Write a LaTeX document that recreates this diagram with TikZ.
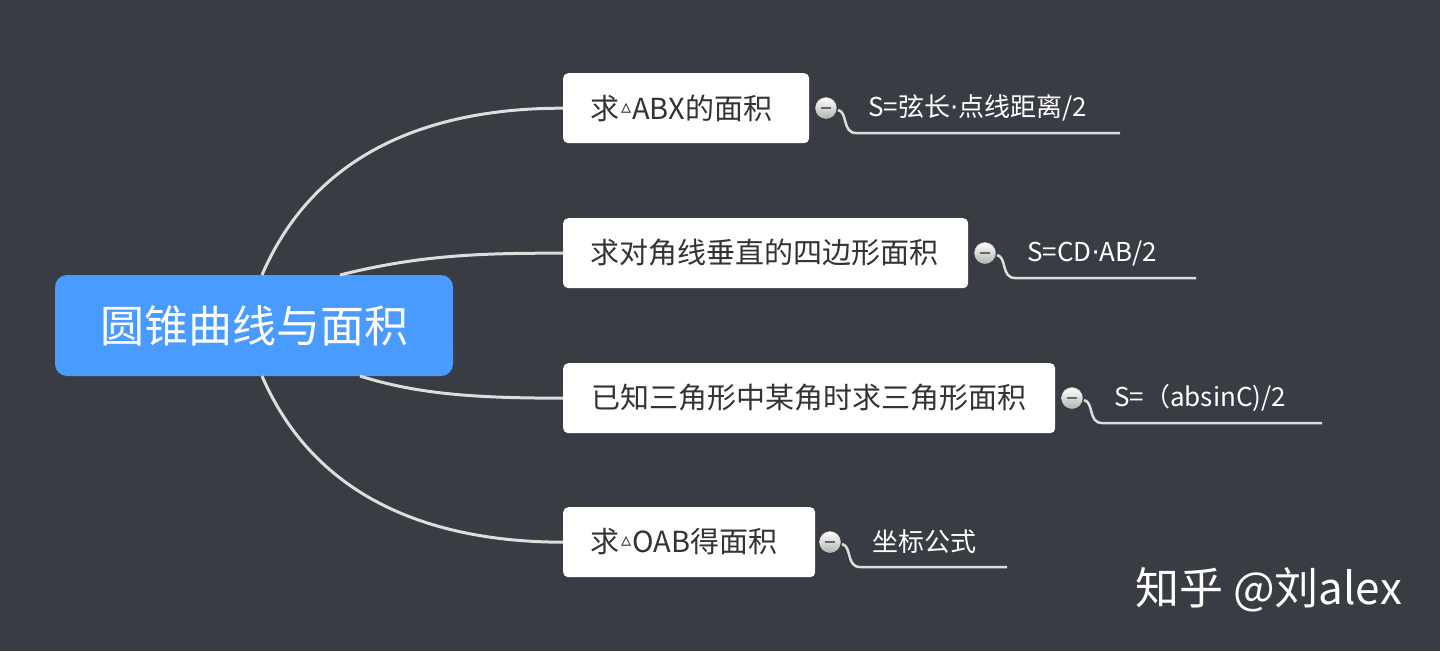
\documentclass[tikz,border=0pt]{standalone}
\usepackage{fontspec}
\setmainfont{Noto Sans CJK SC}
\newfontfamily\djfont{DejaVu Sans}
\definecolor{bg}{HTML}{393C43}
\definecolor{rootc}{HTML}{4A9BFF}
\definecolor{linec}{HTML}{DDDDDD}
\definecolor{txt}{HTML}{333333}
\newcommand{\tri}{\hspace{2pt}\raisebox{6pt}{\djfont\fontsize{20}{20}\selectfont ▵}\hspace{1pt}}
\newcommand{\mdot}{{\djfont ·}}
\begin{document}
\begin{tikzpicture}[x=1pt,y=-1pt,
  child/.style={fill=white,rounded corners=5pt,inner sep=0pt,anchor=north west},
  ctext/.style={text=txt,font=\fontsize{29}{34}\selectfont,anchor=west,inner sep=0pt},
  conn/.style={linec,line width=3pt},
  leaf/.style={text=white,font=\fontsize{26}{30}\selectfont,anchor=west,inner sep=0pt},
  icon/.style={circle,minimum size=21pt,inner sep=0pt,shading=axis,top color=white,bottom color=gray!60,draw=gray!40}]
\fill[bg] (0,0) rectangle (1440,651);
\useasboundingbox (0,0) rectangle (1440,651);
\node[fill=rootc,rounded corners=12pt,minimum width=398pt,minimum height=101pt,text=white,font=\fontsize{44}{52}\selectfont,inner sep=0pt] (root) at (254,325.5) {圆锥曲线与面积};
\node[child,minimum width=246pt,minimum height=70pt] (c1) at (563,73) {};
\node[ctext] (t1) at (590,108) {求\tri ABX的面积};
\node[child,minimum width=405pt,minimum height=70pt] (c2) at (563,218) {};
\node[ctext] (t2) at (590,253) {求对角线垂直的四边形面积};
\node[child,minimum width=492pt,minimum height=70pt] (c3) at (563,363) {};
\node[ctext] (t3) at (591,398) {已知三角形中某角时求三角形面积};
\node[child,minimum width=252pt,minimum height=70pt] (c4) at (563,507) {};
\node[ctext] (t4) at (590,542) {求\tri OAB得面积};
\draw[conn] (262,275) .. controls (320,140) and (450,108) .. (c1.west);
\draw[conn] (340,275) .. controls (420,255) and (480,253) .. (c2.west);
\draw[conn] (360,376) .. controls (420,395) and (480,398) .. (c3.west);
\draw[conn] (262,376) .. controls (320,510) and (450,542) .. (c4.west);
\foreach \n/\x/\y/\e/\t in {1/826/108/1120/{S=弦长\mdot 点线距离/2},2/985/253/1196/{S=CD\mdot AB/2},3/1072/398/1322/{S=（absinC)/2},4/830/542/1007/{坐标公式}}{
  \draw[linec,line width=2.5pt] (\x+12,\y+2) .. controls (\x+22,\y+4) and (\x+16,\y+25) .. (\x+30,\y+25) -- (\e,\y+25);
  \node[icon] (i\n) at (\x,\y) {};
  \draw[gray!80!black,line width=2pt] (\x-5,\y) -- (\x+5,\y);
  \node[leaf] (l\n) at (\x+42,\y) {\t};
}
\node[text=white,font=\fontsize{44}{52}\selectfont,anchor=west,inner sep=0pt] (wm) at (1135,590) {知乎 @刘alex};
\end{tikzpicture}
\end{document}
